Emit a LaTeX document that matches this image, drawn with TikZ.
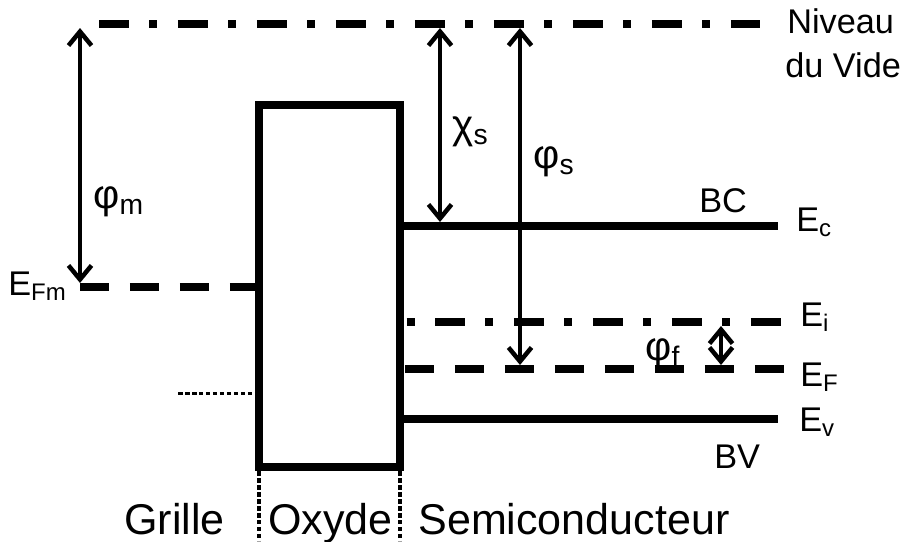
\documentclass[tikz,border=0pt]{standalone}
\usepackage{fontspec}
\setmainfont{Liberation Sans}
\usetikzlibrary{arrows.meta,positioning}

\begin{document}
\begin{tikzpicture}[x=0.02cm,y=-0.02cm,font=\fontsize{19.5}{23}\selectfont]
  \tikzset{lvl/.style={line width=0.16cm},
    vac/.style={lvl,dash pattern=on 0.6cm off 0.41cm on 0.16cm off 0.41cm},
    fermi/.style={lvl,dash pattern=on 0.58cm off 0.42cm},
    dots/.style={line width=0.07cm,dash pattern=on 0.09cm off 0.05cm},
    gap/.style={{Straight Barb[length=0.28cm,width=0.46cm]}-{Straight Barb[length=0.28cm,width=0.46cm]},line width=0.09cm},
    lbl/.style={inner sep=0pt,anchor=base west},
    grk/.style={lbl,font=\fontsize{23}{27}\selectfont},
    zone/.style={lbl,font=\fontsize{24.5}{29}\selectfont}}
  \useasboundingbox (0,0) rectangle (901,541);
  % levels
  \coordinate (v0) at (99,24);    \coordinate (v1) at (760,24);
  \coordinate (m0) at (80,287);   \coordinate (m1) at (259,287);
  \coordinate (c0) at (400,226);  \coordinate (c1) at (778,226);
  \coordinate (i0) at (400,322);  \coordinate (i1) at (782,322);
  \coordinate (f0) at (405,369);  \coordinate (f1) at (787,369);
  \coordinate (w0) at (400,419);  \coordinate (w1) at (778,419);
  \draw[vac] (v0) -- (v1);
  \draw[fermi] (m0) -- (m1);
  \draw[lvl] (c0) -- (c1);
  \draw[vac,dash phase=0.88cm] (i0) -- (i1);
  \draw[fermi] (f0) -- (f1);
  \draw[lvl] (w0) -- (w1);
  % oxyde
  \draw[lvl] (259,105) rectangle (400,467);
  \draw[dots,line width=0.06cm] (178,393) -- (256,393);
  \draw[dots] (259,471) -- (259,541);
  \draw[dots] (400,471) -- (400,541);
  % energies
  \draw[gap] (80,28) -- (80,283);
  \draw[gap] (440,28) -- (440,222);
  \draw[gap] (520,28) -- (520,365);
  \draw[gap] (721,326) -- (721,365);
  \node[lbl] (niv) at (787,33) {Niveau};
  \node[lbl] (vide) at (785,77) {du Vide};
  \node[grk] (phim) at (93,208) {φ\textsubscript{m}};
  \node[lbl] (efm) at (8,295) {E\textsubscript{Fm}};
  \node[grk] (chis) at (452,138) {χ\textsubscript{s}};
  \node[grk] (phis) at (533,168) {φ\textsubscript{s}};
  \node[grk] (phif) at (645,360) {φ\textsubscript{f}};
  \node[lbl] (bc) at (699,212) {BC};
  \node[lbl] (ec) at (796,231) {E\textsubscript{c}};
  \node[lbl] (ei) at (800,326) {E\textsubscript{i}};
  \node[lbl] (ef) at (800,386) {E\textsubscript{F}};
  \node[lbl] (ev) at (799,431) {E\textsubscript{v}};
  \node[lbl] (bv) at (714,468) {BV};
  \node[zone] (gri) at (124,534) {Grille};
  \node[zone] (oxy) at (268,534) {Oxyde};
  \node[zone] (sem) at (418,534) {Semiconducteur};
\end{tikzpicture}
\end{document}
